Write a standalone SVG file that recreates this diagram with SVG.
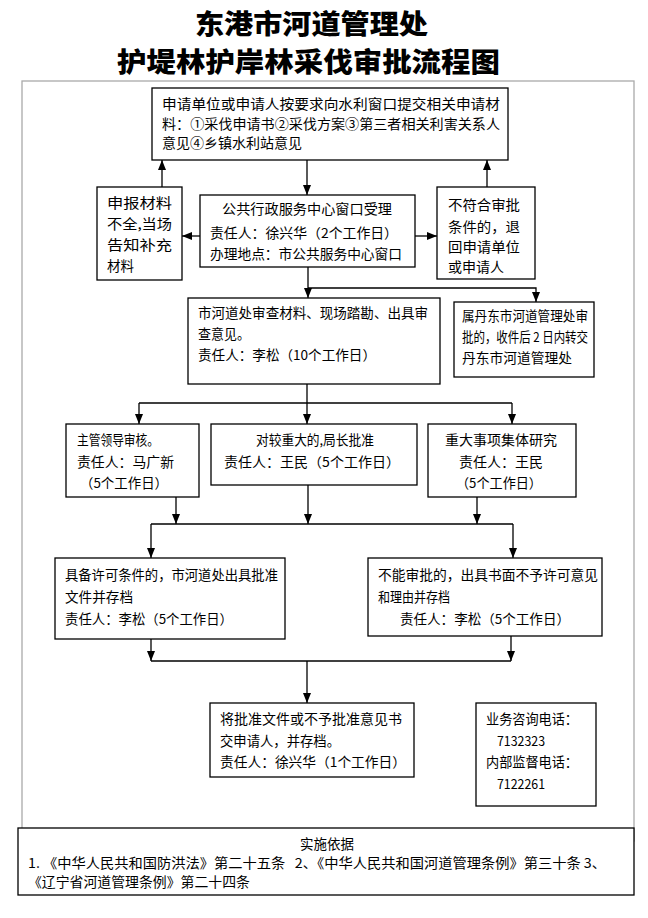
<svg xmlns="http://www.w3.org/2000/svg" width="648" height="918" viewBox="0 0 648 918">
<defs>
<style>
.box{fill:#fff;stroke:#000;stroke-width:1.3}
.t{font-family:"Noto Sans CJK SC","Noto Sans",sans-serif;font-size:13.5px;fill:#000}
.title{font-family:"Noto Sans CJK SC","Noto Sans",sans-serif;font-size:27px;font-weight:900;fill:#000}
.ln{fill:none;stroke:#000;stroke-width:1.3}
.pre{white-space:pre}
</style>
<marker id="ah" markerUnits="userSpaceOnUse" markerWidth="10" markerHeight="10" viewBox="0 0 10 10" refX="10" refY="5" orient="auto">
<path d="M0,1 L10,5 L0,9 Z" fill="#000"/>
</marker>
</defs>
<rect width="648" height="918" fill="#fff"/>
<g id="title">
<text class="title" x="195" y="34" textLength="233" lengthAdjust="spacingAndGlyphs">东港市河道管理处</text>
<text class="title" x="117" y="72" textLength="383" lengthAdjust="spacingAndGlyphs">护堤林护岸林采伐审批流程图</text>
</g>
<rect id="frame" x="22" y="81" width="612" height="760" fill="none" stroke="#aaa" stroke-width="1.3"/>
<g id="connectors">
<path class="ln" d="M307,160 V195" marker-end="url(#ah)"/>
<path class="ln" d="M200,236 H182" marker-end="url(#ah)"/>
<path class="ln" d="M415,236 H437" marker-end="url(#ah)"/>
<path class="ln" d="M162,188 V160" marker-end="url(#ah)"/>
<path class="ln" d="M487,187 V160" marker-end="url(#ah)"/>
<path class="ln" d="M308,267 V298" marker-end="url(#ah)"/>
<path class="ln" d="M308,288 H536 V302" marker-end="url(#ah)"/>
<path class="ln" d="M307,384 V424" marker-end="url(#ah)"/>
<path class="ln" d="M139,403 H512"/>
<path class="ln" d="M139,403 V424" marker-end="url(#ah)"/>
<path class="ln" d="M512,403 V424" marker-end="url(#ah)"/>
<path class="ln" d="M176,497 V524" marker-end="url(#ah)"/>
<path class="ln" d="M308,485 V524" marker-end="url(#ah)"/>
<path class="ln" d="M477,497 V524" marker-end="url(#ah)"/>
<path class="ln" d="M151,524 H513"/>
<path class="ln" d="M151,524 V558" marker-end="url(#ah)"/>
<path class="ln" d="M513,524 V558" marker-end="url(#ah)"/>
<path class="ln" d="M151,639 V661" marker-end="url(#ah)"/>
<path class="ln" d="M511,636 V661" marker-end="url(#ah)"/>
<path class="ln" d="M151,661 H511"/>
<path class="ln" d="M307,661 V703" marker-end="url(#ah)"/>
</g>
<g id="n_apply">
<rect class="box" x="152" y="88" width="356" height="72"/>
<text class="t" x="162" y="109" textLength="338" lengthAdjust="spacingAndGlyphs">申请单位或申请人按要求向水利窗口提交相关申请材</text>
<text class="t" x="162" y="129" textLength="338" lengthAdjust="spacingAndGlyphs">料：①采伐申请书②采伐方案③第三者相关利害关系人</text>
<text class="t" x="162" y="148" textLength="140" lengthAdjust="spacingAndGlyphs">意见④乡镇水利站意见</text>
</g>
<g id="n_incomplete">
<rect class="box" x="97" y="187" width="85" height="93"/>
<text class="t" x="107" y="208" textLength="65" lengthAdjust="spacingAndGlyphs">申报材料</text>
<text class="t" x="107" y="229" textLength="65" lengthAdjust="spacingAndGlyphs">不全,当场</text>
<text class="t" x="107" y="250" textLength="65" lengthAdjust="spacingAndGlyphs">告知补充</text>
<text class="t" x="107" y="271" textLength="27" lengthAdjust="spacingAndGlyphs">材料</text>
</g>
<g id="n_accept">
<rect class="box" x="200" y="195" width="215" height="72"/>
<text class="t" x="222" y="214" textLength="170" lengthAdjust="spacingAndGlyphs">公共行政服务中心窗口受理</text>
<text class="t" x="210" y="238" textLength="188" lengthAdjust="spacingAndGlyphs">责任人：徐兴华（2个工作日）</text>
<text class="t" x="210" y="259" textLength="192" lengthAdjust="spacingAndGlyphs">办理地点：市公共服务中心窗口</text>
</g>
<g id="n_reject">
<rect class="box" x="437" y="187" width="98" height="92"/>
<text class="t" x="448" y="210" textLength="72" lengthAdjust="spacingAndGlyphs">不符合审批</text>
<text class="t" x="448" y="232" textLength="72" lengthAdjust="spacingAndGlyphs">条件的，退</text>
<text class="t" x="448" y="252" textLength="72" lengthAdjust="spacingAndGlyphs">回申请单位</text>
<text class="t" x="448" y="272" textLength="56" lengthAdjust="spacingAndGlyphs">或申请人</text>
</g>
<g id="n_review">
<rect class="box" x="188" y="298" width="252" height="86"/>
<text class="t" x="198" y="318" textLength="230" lengthAdjust="spacingAndGlyphs">市河道处审查材料、现场踏勘、出具审</text>
<text class="t" x="198" y="339" textLength="52" lengthAdjust="spacingAndGlyphs">查意见。</text>
<text class="t" x="198" y="360" textLength="178" lengthAdjust="spacingAndGlyphs">责任人：李松（10个工作日）</text>
</g>
<g id="n_dandong">
<rect class="box" x="454" y="302" width="140" height="75"/>
<text class="t" x="462" y="321" textLength="126" lengthAdjust="spacingAndGlyphs">属丹东市河道管理处审</text>
<text class="t pre" x="462" y="342" textLength="126" lengthAdjust="spacingAndGlyphs">批的，收件后 2 日内转交</text>
<text class="t" x="462" y="363" textLength="110" lengthAdjust="spacingAndGlyphs">丹东市河道管理处</text>
</g>
<g id="n_leader">
<rect class="box" x="66" y="424" width="133" height="73"/>
<text class="t" x="77" y="445" textLength="82" lengthAdjust="spacingAndGlyphs">主管领导审核。</text>
<text class="t" x="77" y="467" textLength="97" lengthAdjust="spacingAndGlyphs">责任人：马广新</text>
<text class="t" x="80" y="488" textLength="88" lengthAdjust="spacingAndGlyphs">（5个工作日）</text>
</g>
<g id="n_director">
<rect class="box" x="211" y="424" width="206" height="61"/>
<text class="t" x="256" y="445" textLength="118" lengthAdjust="spacingAndGlyphs">对较重大的,局长批准</text>
<text class="t" x="224" y="467" textLength="176" lengthAdjust="spacingAndGlyphs">责任人：王民（5个工作日）</text>
</g>
<g id="n_collective">
<rect class="box" x="428" y="424" width="148" height="73"/>
<text class="t" x="445" y="445" textLength="112" lengthAdjust="spacingAndGlyphs">重大事项集体研究</text>
<text class="t" x="459" y="467" textLength="84" lengthAdjust="spacingAndGlyphs">责任人：王民</text>
<text class="t" x="456" y="488" textLength="86" lengthAdjust="spacingAndGlyphs">（5个工作日）</text>
</g>
<g id="n_approve">
<rect class="box" x="55" y="558" width="230" height="81"/>
<text class="t" x="65" y="580" textLength="213" lengthAdjust="spacingAndGlyphs">具备许可条件的，市河道处出具批准</text>
<text class="t" x="65" y="602" textLength="68" lengthAdjust="spacingAndGlyphs">文件并存档</text>
<text class="t" x="65" y="624" textLength="168" lengthAdjust="spacingAndGlyphs">责任人：李松（5个工作日）</text>
</g>
<g id="n_deny">
<rect class="box" x="368" y="558" width="234" height="78"/>
<text class="t" x="378" y="580" textLength="220" lengthAdjust="spacingAndGlyphs">不能审批的，出具书面不予许可意见</text>
<text class="t" x="378" y="602" textLength="72" lengthAdjust="spacingAndGlyphs">和理由并存档</text>
<text class="t" x="400" y="624" textLength="170" lengthAdjust="spacingAndGlyphs">责任人：李松（5个工作日）</text>
</g>
<g id="n_deliver">
<rect class="box" x="210" y="703" width="204" height="74"/>
<text class="t" x="220" y="724" textLength="182" lengthAdjust="spacingAndGlyphs">将批准文件或不予批准意见书</text>
<text class="t" x="220" y="746" textLength="120" lengthAdjust="spacingAndGlyphs">交申请人，并存档。</text>
<text class="t" x="220" y="767" textLength="186" lengthAdjust="spacingAndGlyphs">责任人：徐兴华（1个工作日）</text>
</g>
<g id="n_phone">
<rect class="box" x="476" y="703" width="120" height="103"/>
<text class="t" x="486" y="724" textLength="92" lengthAdjust="spacingAndGlyphs">业务咨询电话：</text>
<text class="t" x="497" y="746" textLength="48" lengthAdjust="spacingAndGlyphs">7132323</text>
<text class="t" x="486" y="767" textLength="92" lengthAdjust="spacingAndGlyphs">内部监督电话：</text>
<text class="t" x="497" y="789" textLength="48" lengthAdjust="spacingAndGlyphs">7122261</text>
</g>
<g id="n_basis">
<rect class="box" x="18" y="828" width="616" height="67"/>
<text class="t" x="327" y="849" text-anchor="middle">实施依据</text>
<text class="t pre" x="28" y="868" textLength="578" lengthAdjust="spacingAndGlyphs">1. 《中华人民共和国防洪法》第二十五条   2、《中华人民共和国河道管理条例》第三十条 3、</text>
<text class="t" x="28" y="887" textLength="222" lengthAdjust="spacingAndGlyphs">《辽宁省河道管理条例》第二十四条</text>
</g>
</svg>
